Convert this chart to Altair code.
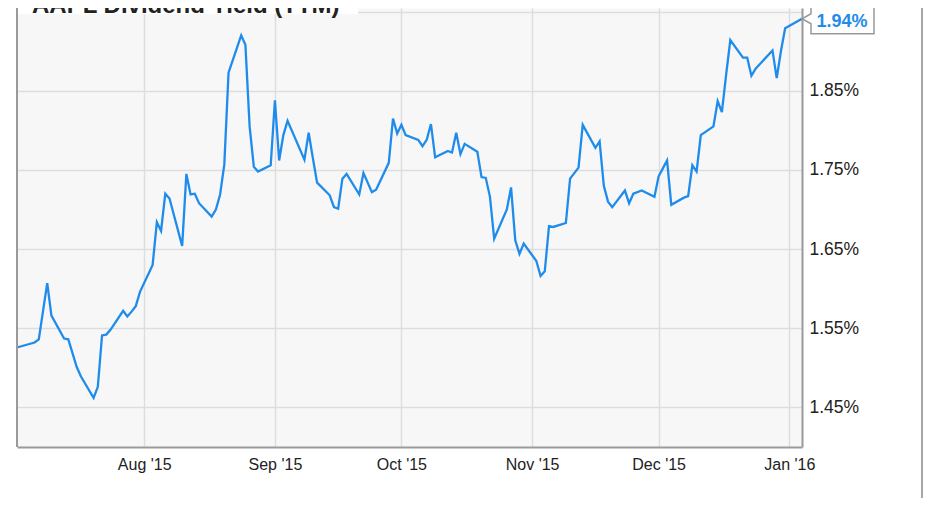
import altair as alt
import pandas as pd

TITLE = "AAPL Dividend Yield (TTM)"

dates = [
    "2015-07-02", "2015-07-06", "2015-07-07", "2015-07-09", "2015-07-10",
    "2015-07-13", "2015-07-14", "2015-07-16", "2015-07-17", "2015-07-20",
    "2015-07-21", "2015-07-22", "2015-07-23", "2015-07-24", "2015-07-27",
    "2015-07-28", "2015-07-29", "2015-07-30", "2015-07-31", "2015-08-03",
    "2015-08-04", "2015-08-05", "2015-08-06", "2015-08-07", "2015-08-10",
    "2015-08-11", "2015-08-12", "2015-08-13", "2015-08-14", "2015-08-17",
    "2015-08-18", "2015-08-19", "2015-08-20", "2015-08-21", "2015-08-24",
    "2015-08-25", "2015-08-26", "2015-08-27", "2015-08-28", "2015-08-31",
    "2015-09-01", "2015-09-02", "2015-09-03", "2015-09-04", "2015-09-08",
    "2015-09-09", "2015-09-10", "2015-09-11", "2015-09-14", "2015-09-15",
    "2015-09-16", "2015-09-17", "2015-09-18", "2015-09-21", "2015-09-22",
    "2015-09-23", "2015-09-24", "2015-09-25", "2015-09-28", "2015-09-29",
    "2015-09-30", "2015-10-01", "2015-10-02", "2015-10-05", "2015-10-06",
    "2015-10-07", "2015-10-08", "2015-10-09", "2015-10-12", "2015-10-13",
    "2015-10-14", "2015-10-15", "2015-10-16", "2015-10-19", "2015-10-20",
    "2015-10-21", "2015-10-22", "2015-10-23", "2015-10-26", "2015-10-27",
    "2015-10-28", "2015-10-29", "2015-10-30", "2015-11-02", "2015-11-03",
    "2015-11-04", "2015-11-05", "2015-11-06", "2015-11-09", "2015-11-10",
    "2015-11-11", "2015-11-12", "2015-11-13", "2015-11-16", "2015-11-17",
    "2015-11-18", "2015-11-19", "2015-11-20", "2015-11-23", "2015-11-24",
    "2015-11-25", "2015-11-27", "2015-11-30", "2015-12-01", "2015-12-02",
    "2015-12-03", "2015-12-04", "2015-12-07", "2015-12-08", "2015-12-09",
    "2015-12-10", "2015-12-11", "2015-12-14", "2015-12-15", "2015-12-16",
    "2015-12-17", "2015-12-18", "2015-12-21", "2015-12-22", "2015-12-23",
    "2015-12-24", "2015-12-28", "2015-12-29", "2015-12-30", "2015-12-31",
    "2016-01-04",
]

values = [
    1.526, 1.532, 1.536, 1.607, 1.566,
    1.537, 1.536, 1.501, 1.489, 1.462,
    1.476, 1.541, 1.542, 1.548, 1.572,
    1.565, 1.571, 1.578, 1.596, 1.630,
    1.684, 1.673, 1.720, 1.714, 1.654,
    1.745, 1.719, 1.720, 1.708, 1.691,
    1.700, 1.719, 1.757, 1.873, 1.920,
    1.908, 1.805, 1.754, 1.748, 1.756,
    1.838, 1.762, 1.794, 1.812, 1.763,
    1.797, 1.765, 1.734, 1.718, 1.703,
    1.701, 1.739, 1.745, 1.719, 1.746,
    1.734, 1.722, 1.725, 1.759, 1.815,
    1.796, 1.807, 1.794, 1.788, 1.780,
    1.788, 1.808, 1.766, 1.774, 1.772,
    1.797, 1.770, 1.783, 1.773, 1.741,
    1.740, 1.716, 1.663, 1.700, 1.728,
    1.661, 1.644, 1.657, 1.635, 1.616,
    1.622, 1.679, 1.678, 1.683, 1.739,
    1.746, 1.753, 1.807, 1.778, 1.786,
    1.730, 1.710, 1.703, 1.724, 1.708,
    1.720, 1.724, 1.716, 1.742, 1.752,
    1.762, 1.706, 1.715, 1.717, 1.756,
    1.748, 1.794, 1.805, 1.837, 1.823,
    1.870, 1.914, 1.892, 1.892, 1.869,
    1.878, 1.901, 1.866, 1.900, 1.929,
    1.941,
]

month_ticks = ["2015-08-01", "2015-09-01", "2015-10-01", "2015-11-01", "2015-12-01", "2016-01-01"]
y_ticks = [1.45, 1.55, 1.65, 1.75, 1.85, 1.95]

LINE = "#1f8ceb"
GRID = "#dddddd"
AXIS = "#9a9a9a"
TXT = "#222222"
FONT = "Liberation Sans"

W, H = 785, 439


def ms(s):
    return int(pd.Timestamp(s, tz="UTC").value // 10**6)


x_domain = [ms("2015-07-01 20:00"), ms("2016-01-04 00:00")]

df = pd.DataFrame({"date": dates, "value": values})
last = df.tail(1).copy()
last["label"] = [f"{values[-1]:.2f}%"]

x_enc = alt.X(
    "date:T",
    scale=alt.Scale(type="utc", domain=x_domain, nice=False),
    axis=alt.Axis(
        values=[ms(t) for t in month_ticks],
        labelExpr="utcFormat(datum.value, \"%b '%y\")",
        title=None,
        grid=True,
        gridColor=GRID,
        gridWidth=1.5,
        domain=True,
        domainColor=AXIS,
        domainWidth=2,
        ticks=False,
        labelPadding=9,
        labelFont=FONT,
        labelFontSize=16,
        labelColor=TXT,
        labelAlign="center",
    ),
)
y_enc = alt.Y(
    "value:Q",
    scale=alt.Scale(domain=[1.40, 1.9546], nice=False, zero=False),
    axis=alt.Axis(
        orient="right",
        values=y_ticks,
        labelExpr="datum.value > 1.9 ? '' : format(datum.value, '.2f') + '%'",
        title=None,
        grid=True,
        gridColor=GRID,
        gridWidth=1.5,
        domain=True,
        domainColor=AXIS,
        domainWidth=2,
        ticks=False,
        labelPadding=7,
        labelFont=FONT,
        labelFontSize=17.5,
        labelColor=TXT,
        labelAlign="left",
    ),
)

one = pd.DataFrame({"t": [TITLE]})

line = alt.Chart(df).mark_line(color=LINE, strokeWidth=2.3).encode(x=x_enc, y=y_enc)

left_rule = alt.Chart(one).mark_rule(color=AXIS, strokeWidth=2).encode(
    x=alt.value(0), y=alt.value(0), y2=alt.value(H)
)
frame_right = alt.Chart(one).mark_rule(color="#8a8a8a", strokeWidth=1.5).encode(
    x=alt.value(905), y=alt.value(0), y2=alt.value(498)
)
title_box = alt.Chart(one).mark_rect(color="white").encode(
    x=alt.value(1), x2=alt.value(341), y=alt.value(0), y2=alt.value(6)
)
title_text = alt.Chart(one).mark_text(
    align="left", baseline="alphabetic", font=FONT, fontSize=24, fontWeight="bold", color=TXT
).encode(x=alt.value(15), y=alt.value(5), text="t:N")

callout_path = "M9,-14H72V15H9V5L0,0L9,-5Z"
callout_box = alt.Chart(last).mark_point(
    shape=callout_path, size=4, filled=True, fill="white", stroke="#999999",
    strokeWidth=1.5, opacity=1
).encode(x=alt.X("date:T"), y=alt.Y("value:Q"))
callout_text = alt.Chart(last).mark_text(
    align="center", baseline="middle", dx=40, dy=3, font=FONT, fontSize=18,
    fontWeight="bold", color=LINE
).encode(x=alt.X("date:T"), y=alt.Y("value:Q"), text="label:N")

chart = alt.layer(
    line, left_rule, frame_right, title_box, title_text, callout_box, callout_text
).properties(
    width=W, height=H,
    autosize=alt.AutoSizeParams(type="none"),
    padding={"left": 9, "top": 0, "right": 121, "bottom": 51},
).configure_view(
    fill="#f7f7f7", stroke="transparent"
)

chart.save("out.html", embed_options={"renderer": "svg", "actions": False})
